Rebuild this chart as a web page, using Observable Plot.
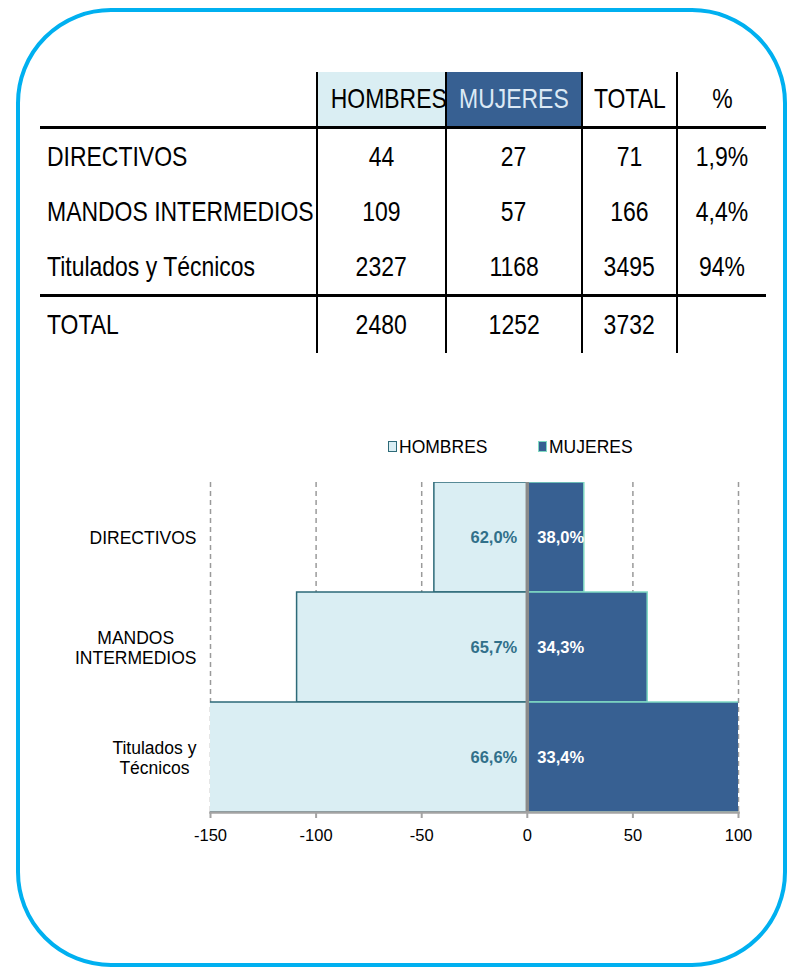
<!DOCTYPE html>
<html>
<head>
<meta charset="utf-8">
<script src="https://cdn.jsdelivr.net/npm/d3@7"></script>
<script src="https://cdn.jsdelivr.net/npm/@observablehq/plot@0.6"></script>
<style>
  html, body { margin: 0; padding: 0; background: #fff; }
  #page { position: relative; width: 793px; height: 969px; overflow: hidden; background: #fff; }
  #frame { position: absolute; left: 16px; top: 8px; width: 763px; height: 951px;
           border: 4.5px solid #00b0f0; border-radius: 95px; }
  #tbl { position: absolute; left: 40px; top: 72px; border-collapse: collapse; table-layout: fixed;
         font-family: "Liberation Sans", Arial, sans-serif;
         font-size: 28px; color: #000; }
  #tbl td { padding: 0; text-align: center; vertical-align: middle; white-space: nowrap; overflow: visible; }
  #tbl td span { display: inline-block; transform: scaleX(0.82); transform-origin: 50% 50%; }
  #tbl td.lab { text-align: left; padding-left: 7px; }
  #tbl td.lab span { transform-origin: 0 50%; }
  #tbl td.v { border-left: 2px solid #000; }
  #tbl tr.head td { height: 54px; border-bottom: 3px solid #000; }
  #tbl tr.body td { height: 55px; }
  #tbl tr.last td { border-bottom: 3px solid #000; }
  #tbl tr.tot td { height: 56px; }
  #legend { position: absolute; top: 436px; left: 0; width: 793px; height: 22px;
            font-family: "Liberation Sans", Arial, sans-serif; font-size: 17.5px; color: #000; }
  .lg { position: absolute; top: 0; line-height: 22px; white-space: nowrap; }
  .sw { position: absolute; top: 5px; width: 7px; height: 9px; }
  #chart { position: absolute; left: 0; top: 470px; }
</style>
</head>
<body>
<div id="page">
  <div id="frame"></div>
  <table id="tbl"></table>
  <div id="legend"></div>
  <div id="chart"></div>
</div>
<script>
// ---- table data ----
const tableHeaders = ["", "HOMBRES", "MUJERES", "TOTAL", "%"];
const tableLabels = ["DIRECTIVOS", "MANDOS INTERMEDIOS", "Titulados y Técnicos", "TOTAL"];
const tableHombres = [44, 109, 2327, 2480];
const tableMujeres = [27, 57, 1168, 1252];
const tableTotal = [71, 166, 3495, 3732];
const tablePct = ["1,9%", "4,4%", "94%", ""];

// ---- chart data ----
const categories = ["DIRECTIVOS", "MANDOS INTERMEDIOS", "Titulados y Técnicos"];
const axisLabels = ["DIRECTIVOS", "MANDOS\nINTERMEDIOS", "Titulados y\nTécnicos"];
const hombres = [44, 109, 2327];
const mujeres = [27, 57, 1168];
const pctHombres = ["62,0%", "65,7%", "66,6%"];
const pctMujeres = ["38,0%", "34,3%", "33,4%"];
const xTicks = [-150, -100, -50, 0, 50, 100];
const gridTicks = [-150, -100, -50, 50, 100];
const seriesNames = ["HOMBRES", "MUJERES"];

const cHombres = "#daeef3", sHombres = "#2d6a78";
const cMujeres = "#376092", sMujeres = "#7fd9c3";

// ---- build table ----
const colWidths = [277, 129, 136, 95, 89];
const tbl = document.getElementById("tbl");
const cg = document.createElement("colgroup");
colWidths.forEach(w => { const c = document.createElement("col"); c.style.width = w + "px"; cg.appendChild(c); });
tbl.appendChild(cg);
tbl.style.width = d3.sum(colWidths) + "px";
function cell(v, cls) {
  const td = document.createElement("td");
  if (cls) td.className = cls;
  const sp = document.createElement("span");
  sp.textContent = v;
  td.appendChild(sp);
  return td;
}
{
  const tr = document.createElement("tr"); tr.className = "head";
  tableHeaders.forEach((h, j) => {
    const td = cell(h, j > 0 ? "v" : "");
    if (j === 1) { td.style.background = cHombres; }
    if (j === 2) { td.style.background = cMujeres; td.style.color = "#dce9f5"; }
    tr.appendChild(td);
  });
  tbl.appendChild(tr);
}
tableLabels.forEach((lab, i) => {
  const tr = document.createElement("tr");
  tr.className = i === 3 ? "tot" : (i === 2 ? "body last" : "body");
  [lab, tableHombres[i], tableMujeres[i], tableTotal[i], tablePct[i]].forEach((v, j) => {
    tr.appendChild(cell(v, j === 0 ? "lab" : "v"));
  });
  tbl.appendChild(tr);
});

// ---- legend ----
const legend = document.getElementById("legend");
const legendX = [388, 538];
const legendFill = [cHombres, cMujeres];
const legendStroke = [sHombres, sMujeres];
seriesNames.forEach((n, i) => {
  const sw = document.createElement("div");
  sw.className = "sw";
  sw.style.left = legendX[i] + "px";
  sw.style.background = legendFill[i];
  sw.style.border = "1px solid " + legendStroke[i];
  legend.appendChild(sw);
  const t = document.createElement("div");
  t.className = "lg";
  t.style.left = (legendX[i] + 11) + "px";
  t.textContent = n;
  legend.appendChild(t);
});

// ---- chart ----
const data = categories.map((c, i) => ({
  cat: c, h: hombres[i], m: mujeres[i], ph: pctHombres[i], pm: pctMujeres[i]
}));

const plot = Plot.plot({
  width: 793,
  height: 380,
  marginLeft: 210,
  marginRight: 55,
  marginTop: 12,
  marginBottom: 38,
  style: { fontFamily: "'Liberation Sans', Arial, sans-serif", color: "#000", background: "transparent", overflow: "visible" },
  x: { domain: [-150, 100], label: null },
  y: { domain: categories, padding: 0, label: null },
  marks: [
    Plot.ruleX(gridTicks, { stroke: "#9a9a9a", strokeWidth: 1.5, strokeDasharray: "5,4" }),
    Plot.barX(data, { y: "cat", x1: 0, x2: d => -d.h, fill: cHombres, stroke: sHombres, strokeWidth: 1.5, clip: true }),
    Plot.barX(data, { y: "cat", x1: 0, x2: d => d.m, fill: cMujeres, stroke: sMujeres, strokeWidth: 1.5, clip: true }),
    Plot.ruleX([0], { stroke: "#8a8a8a", strokeWidth: 3.5 }),
    Plot.frame({ anchor: "bottom", stroke: "#a3a3a3", strokeWidth: 2.5 }),
    Plot.text(data, { y: "cat", x: 0, text: "ph", textAnchor: "end", dx: -10, fill: "#31708a", fontWeight: "bold", fontSize: 16.5 }),
    Plot.text(data, { y: "cat", x: 0, text: "pm", textAnchor: "start", dx: 10, fill: "#ffffff", fontWeight: "bold", fontSize: 16.5 }),
    Plot.axisX({ ticks: xTicks, tickSize: 6, tickPadding: 11, stroke: "#a3a3a3", strokeWidth: 2, fontSize: 16.5, fill: "#000", label: null, tickFormat: d => String(d) }),
    Plot.axisY({ tickSize: 0, tickPadding: 14, fontSize: 17.5, lineHeight: 1.15, fill: "#000", label: null,
                 tickFormat: d => axisLabels[categories.indexOf(d)] })
  ]
});
document.getElementById("chart").appendChild(plot);

// center multi-line y-axis labels (as in the original)
plot.querySelectorAll('g[aria-label="y-axis tick label"] text').forEach(t => {
  const spans = t.querySelectorAll("tspan");
  if (spans.length > 1) {
    const w = t.getBBox().width;
    t.setAttribute("text-anchor", "middle");
    spans.forEach(s => s.setAttribute("x", -w / 2));
  }
});
</script>
</body>
</html>
